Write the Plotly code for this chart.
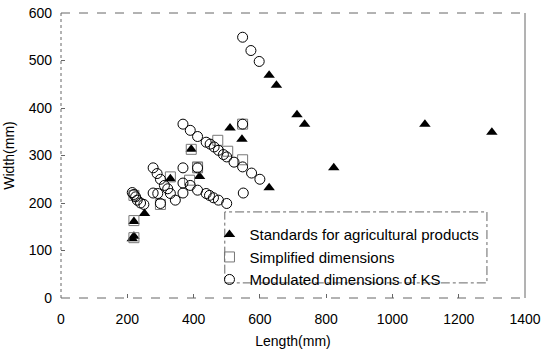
import plotly.graph_objects as go

# Standards for agricultural products
std_len = [215, 220, 220, 252, 330, 393, 418, 510, 546, 628, 628, 650, 712, 735, 823, 1098, 1300]
std_wid = [125, 130, 161, 178, 251, 313, 256, 358, 334, 469, 232, 448, 386, 366, 274, 366, 349]

# Simplified dimensions
sim_len = [220, 220, 220, 300, 330, 388, 393, 412, 412, 473, 503, 548, 548]
sim_wid = [127, 163, 216, 197, 255, 248, 313, 276, 274, 332, 309, 366, 291]

# Modulated dimensions of KS
ks_len = [548, 573, 598,
          368, 390, 412, 438, 450, 462, 475, 490, 500, 522, 548, 575, 600,
          368, 412, 278, 290, 300, 312, 322, 330, 345, 368, 368, 390, 412, 438, 448, 460, 475, 500, 550,
          215, 220, 225, 230, 240, 250, 278, 292, 300, 548]
ks_wid = [549, 521, 498,
          366, 353, 340, 328, 324, 318, 311, 302, 297, 286, 276, 263, 250,
          274, 274, 274, 262, 250, 237, 230, 220, 206, 221, 242, 237, 227, 220, 216, 211, 206, 199, 221,
          222, 218, 213, 206, 200, 197, 221, 220, 199, 366]

fig = go.Figure()
fig.add_trace(go.Scatter(x=std_len, y=std_wid, mode="markers", name="Standards for agricultural products",
                         legendgroup="a",
                         marker=dict(symbol="triangle-up", size=10, color="black")))
fig.add_trace(go.Scatter(x=sim_len, y=sim_wid, mode="markers", name="Simplified dimensions",
                         legendgroup="b",
                         marker=dict(symbol="square-open", size=10, color="#777777", line=dict(width=1))))
fig.add_trace(go.Scatter(x=ks_len, y=ks_wid, mode="markers", name="Modulated dimensions of KS",
                         legendgroup="c",
                         marker=dict(symbol="circle-open", size=10, color="black", line=dict(width=1))))

frame = "#666666"
shapes = [
    dict(type="line", xref="paper", yref="paper", x0=0, x1=0, y0=0, y1=1, line=dict(color=frame, width=1, dash="dot")),
    dict(type="line", xref="paper", yref="paper", x0=0, x1=1, y0=1, y1=1, line=dict(color=frame, width=1, dash="dash")),
    dict(type="line", xref="paper", yref="paper", x0=1, x1=1, y0=0, y1=1, line=dict(color=frame, width=1)),
    dict(type="line", xref="paper", yref="paper", x0=0, x1=1, y0=0, y1=0, line=dict(color=frame, width=1, dash="dash")),
    dict(type="rect", xref="paper", yref="paper", x0=0.353, x1=0.918, y0=0.053, y1=0.302,
         line=dict(color=frame, width=1, dash="dashdot"), fillcolor="white", layer="below"),
]

fig.update_layout(
    width=543, height=355,
    margin=dict(l=61, r=18, t=13, b=57),
    paper_bgcolor="white", plot_bgcolor="white",
    font=dict(family="Liberation Sans, Arial, sans-serif", size=14, color="black"),
    shapes=shapes,
    showlegend=True,
    legend=dict(x=0.32, y=0.28, xanchor="left", yanchor="top", bgcolor="rgba(0,0,0,0)",
                font=dict(size=15), itemwidth=30, tracegroupgap=0),
    xaxis=dict(range=[0, 1400], dtick=200, tick0=0, showgrid=False, zeroline=False, showline=False,
               ticks="inside", ticklen=4, tickcolor=frame, automargin=False, ticklabelstandoff=11,
               ticklabeloverflow="allow",
               title=dict(text="Length(mm)", standoff=10, font=dict(size=14))),
    yaxis=dict(range=[0, 600], dtick=100, tick0=0, showgrid=False, zeroline=False, showline=False,
               ticks="inside", ticklen=4, tickcolor=frame, automargin=False, ticklabelstandoff=8,
               ticklabeloverflow="allow",
               title=dict(text="Width(mm)", standoff=10, font=dict(size=14))),
)

fig.write_html("out.html", config={"displayModeBar": False},
               post_script="document.body.style.margin='0';")
